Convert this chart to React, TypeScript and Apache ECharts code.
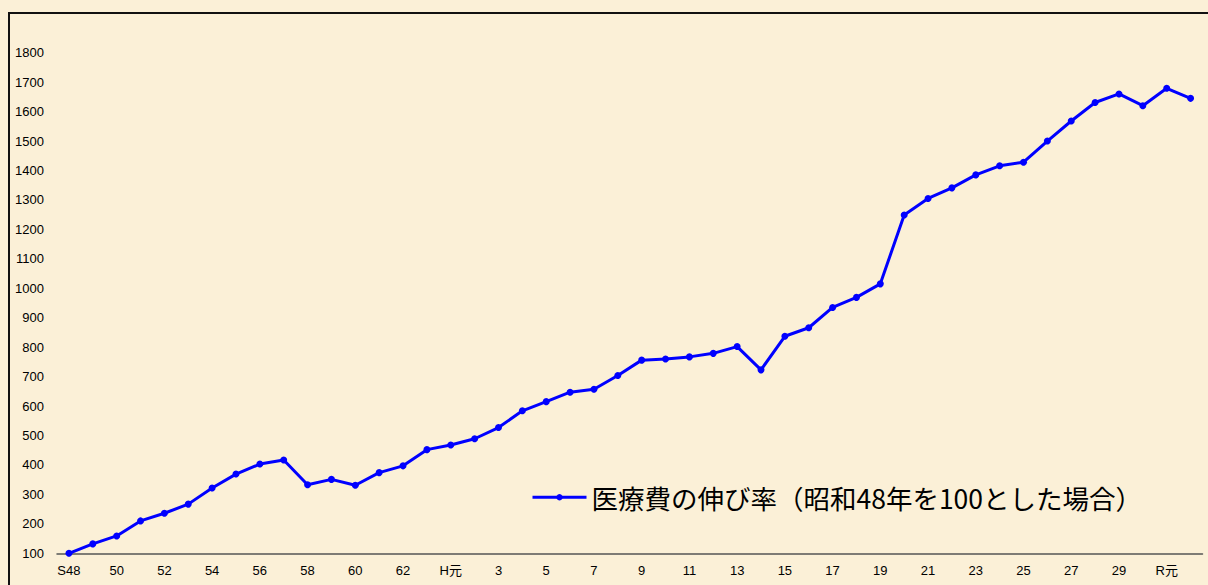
import React, { useEffect, useRef } from "react";
import * as echarts from "echarts";

const categories: string[] = [
  "S48", "49", "50", "51", "52", "53", "54", "55", "56", "57", "58", "59", "60", "61", "62", "63",
  "H元", "2", "3", "4", "5", "6", "7", "8", "9", "10", "11", "12", "13", "14", "15", "16", "17", "18", "19",
  "20", "21", "22", "23", "24", "25", "26", "27", "28", "29", "30", "R元", "2",
];

const growthValues: number[] = [
  100, 132, 159, 210, 236, 267, 322, 369, 403, 417, 333, 351, 331, 374, 397, 452,
  468, 489, 527, 584, 615, 647, 657, 704, 756, 760, 767, 779, 802, 723, 837, 866, 935, 969, 1015,
  1249, 1305, 1341, 1385, 1416, 1428, 1500, 1568, 1631, 1660, 1620, 1679, 1645,
];

const seriesName = "医療費の伸び率（昭和48年を100とした場合）";

export default function App() {
  const ref = useRef<HTMLDivElement>(null);
  useEffect(() => {
    if (!ref.current) return;
    const chart = echarts.init(ref.current, null, { renderer: "svg" });
    chart.setOption({
      animation: false,
      backgroundColor: "#FBF0D7",
      graphic: [
        {
          type: "rect",
          shape: { x: 9, y: 13, width: 1220, height: 600 },
          style: { fill: "none", stroke: "#111", lineWidth: 2 },
          z: 100,
        },
      ],
      grid: { left: 57, right: 5.5, top: 52.7, bottom: 31.7, containLabel: false },
      legend: {
        left: 526,
        top: 479,
        itemWidth: 54,
        itemHeight: 8,
        itemGap: 8,
        lineStyle: { width: 3 },
        textStyle: {
          fontSize: 26.5,
          color: "#000",
          fontFamily: "'Noto Sans CJK JP', sans-serif",
        },
        data: [seriesName],
      },
      xAxis: {
        type: "category",
        data: categories,
        boundaryGap: true,
        axisLine: { lineStyle: { color: "#555", width: 1.5 } },
        axisTick: { inside: true, length: 4, lineStyle: { color: "#333" } },
        axisLabel: {
          interval: 1,
          color: "#000",
          fontSize: 13,
          margin: 11,
          fontFamily: "'Liberation Sans', 'Noto Sans CJK JP', sans-serif",
        },
        splitLine: { show: false },
      },
      yAxis: {
        type: "value",
        min: 100,
        max: 1800,
        interval: 100,
        axisLine: { show: false },
        axisTick: { show: false },
        splitLine: { show: false },
        axisLabel: {
          color: "#000",
          fontSize: 13,
          margin: 13,
          formatter: (v: number) => String(v),
          fontFamily: "'Liberation Sans', sans-serif",
        },
      },
      series: [
        {
          name: seriesName,
          type: "line",
          data: growthValues,
          symbol: "circle",
          symbolSize: 7,
          lineStyle: { color: "#0000FF", width: 3 },
          itemStyle: { color: "#0000FF" },
        },
      ],
    });
    return () => chart.dispose();
  }, []);
  return (
    <div
      ref={ref}
      style={{ position: "absolute", left: 0, top: 0, width: 1208, height: 585 }}
    />
  );
}
